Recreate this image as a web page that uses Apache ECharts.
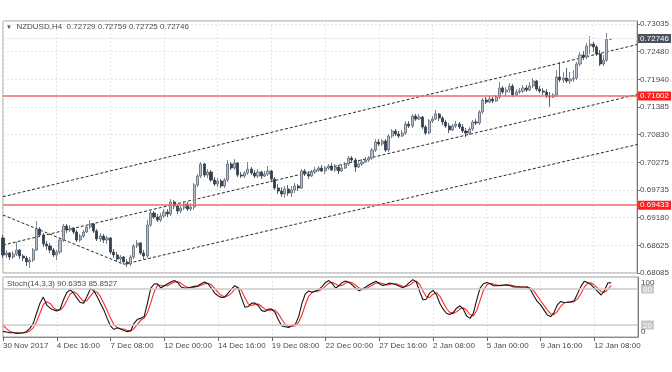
<!DOCTYPE html>
<html><head><meta charset="utf-8">
<script src="https://cdn.jsdelivr.net/npm/echarts@6/dist/echarts.min.js"></script>
<style>html,body{margin:0;padding:0;background:#fff}#c{width:672px;height:372px}</style>
</head><body><div id="c"></div>
<script>
const symbolName = 'NZDUSD,H4';
const xTickLabels = ['30 Nov 2017','4 Dec 16:00','7 Dec 08:00','12 Dec 00:00','14 Dec 16:00','19 Dec 08:00','22 Dec 00:00','27 Dec 16:00','2 Jan 08:00','5 Jan 00:00','9 Jan 16:00','12 Jan 08:00'];
const yTickLabels = ['0.68085','0.68625','0.69180','0.69735','0.70275','0.70830','0.71385','0.71940','0.72480','0.73035'];
const stochLevelLabels = {20:'20',80:'80'};
const stochEdgeLabels = {1:'0',11:'100'};

const opens = [0.68781,0.68443,0.68482,0.68403,0.68462,0.68542,0.68423,0.68383,0.68304,0.68343,
0.68542,0.68960,0.68840,0.68661,0.68622,0.68542,0.68443,0.68502,0.68741,0.69019,
0.68940,0.68979,0.68900,0.68741,0.68820,0.68900,0.68999,0.69059,0.68920,0.68761,
0.68820,0.68741,0.68781,0.68502,0.68443,0.68363,0.68403,0.68304,0.68264,0.68403,
0.68622,0.68681,0.68482,0.68423,0.69039,0.69278,0.69198,0.69138,0.69218,0.69297,
0.69258,0.69496,0.69417,0.69317,0.69377,0.69457,0.69357,0.69397,0.69834,0.70013,
0.70252,0.70033,0.70093,0.69934,0.69854,0.69914,0.69814,0.69934,0.70252,0.70172,
0.70272,0.70033,0.70013,0.70073,0.70152,0.70073,0.70013,0.70093,0.70013,0.70053,
0.70113,0.69954,0.69775,0.69715,0.69655,0.69755,0.69675,0.69735,0.69814,0.69775,
0.70113,0.70053,0.70013,0.70093,0.70133,0.70172,0.70113,0.70172,0.70212,0.70133,
0.70192,0.70113,0.70172,0.70252,0.70371,0.70331,0.70192,0.70252,0.70291,0.70331,
0.70371,0.70530,0.70689,0.70649,0.70709,0.70530,0.70808,0.70908,0.70848,0.70808,
0.70868,0.71047,0.71007,0.71206,0.71146,0.71186,0.70987,0.70868,0.71107,0.71146,
0.71246,0.71166,0.71087,0.71007,0.70928,0.71007,0.71047,0.70987,0.70908,0.70868,
0.70947,0.71087,0.71067,0.71286,0.71524,0.71484,0.71544,0.71504,0.71584,0.71763,
0.71683,0.71723,0.71802,0.71624,0.71683,0.71703,0.71763,0.71723,0.71802,0.71902,
0.71743,0.71703,0.71683,0.71604,0.71584,0.71624,0.71981,0.71922,0.71961,0.71902,
0.71942,0.71961,0.72240,0.72419,0.72379,0.72598,0.72637,0.72578,0.72438,0.72240,
0.72319,0.72729];
const closes = [0.68443,0.68482,0.68403,0.68462,0.68542,0.68423,0.68383,0.68304,0.68343,0.68542,
0.68960,0.68840,0.68661,0.68622,0.68542,0.68443,0.68502,0.68741,0.69019,0.68940,
0.68979,0.68900,0.68741,0.68820,0.68900,0.68999,0.69059,0.68920,0.68761,0.68820,
0.68741,0.68781,0.68502,0.68443,0.68363,0.68403,0.68304,0.68264,0.68403,0.68622,
0.68681,0.68482,0.68423,0.69039,0.69278,0.69198,0.69138,0.69218,0.69297,0.69258,
0.69496,0.69417,0.69317,0.69377,0.69457,0.69357,0.69397,0.69834,0.70013,0.70252,
0.70033,0.70093,0.69934,0.69854,0.69914,0.69814,0.69934,0.70252,0.70172,0.70272,
0.70033,0.70013,0.70073,0.70152,0.70073,0.70013,0.70093,0.70013,0.70053,0.70113,
0.69954,0.69775,0.69715,0.69655,0.69755,0.69675,0.69735,0.69814,0.69775,0.70113,
0.70053,0.70013,0.70093,0.70133,0.70172,0.70113,0.70172,0.70212,0.70133,0.70192,
0.70113,0.70172,0.70252,0.70371,0.70331,0.70192,0.70252,0.70291,0.70331,0.70371,
0.70530,0.70689,0.70649,0.70709,0.70530,0.70808,0.70908,0.70848,0.70808,0.70868,
0.71047,0.71007,0.71206,0.71146,0.71186,0.70987,0.70868,0.71107,0.71146,0.71246,
0.71166,0.71087,0.71007,0.70928,0.71007,0.71047,0.70987,0.70908,0.70868,0.70947,
0.71087,0.71067,0.71286,0.71524,0.71484,0.71544,0.71504,0.71584,0.71763,0.71683,
0.71723,0.71802,0.71624,0.71683,0.71703,0.71763,0.71723,0.71802,0.71902,0.71743,
0.71703,0.71683,0.71604,0.71584,0.71624,0.71981,0.71922,0.71961,0.71902,0.71942,
0.71961,0.72240,0.72419,0.72379,0.72598,0.72637,0.72578,0.72438,0.72240,0.72319,
0.72729,0.72746];
const lows = [0.68383,0.68383,0.68343,0.68363,0.68423,0.68363,0.68323,0.68224,0.68184,0.68304,
0.68522,0.68800,0.68602,0.68542,0.68482,0.68403,0.68343,0.68462,0.68701,0.68880,
0.68900,0.68860,0.68701,0.68701,0.68781,0.68880,0.68960,0.68880,0.68721,0.68701,
0.68681,0.68661,0.68462,0.68383,0.68304,0.68284,0.68264,0.68204,0.68224,0.68363,
0.68582,0.68443,0.68363,0.68383,0.68999,0.69158,0.69099,0.69099,0.69178,0.69198,
0.69218,0.69357,0.69258,0.69278,0.69337,0.69317,0.69317,0.69337,0.69794,0.69973,
0.69993,0.69973,0.69894,0.69814,0.69794,0.69775,0.69775,0.69894,0.70133,0.70133,
0.69993,0.69973,0.69973,0.70033,0.70033,0.69973,0.69973,0.69954,0.69993,0.70013,
0.69914,0.69735,0.69655,0.69596,0.69576,0.69616,0.69596,0.69675,0.69715,0.69755,
0.70013,0.69954,0.69993,0.70053,0.70093,0.70093,0.70053,0.70133,0.70113,0.70093,
0.70053,0.70093,0.70152,0.70212,0.70272,0.70093,0.70172,0.70212,0.70272,0.70291,
0.70331,0.70490,0.70610,0.70610,0.70490,0.70490,0.70769,0.70808,0.70769,0.70788,
0.70828,0.70967,0.70967,0.71107,0.71127,0.70947,0.70828,0.70848,0.71067,0.71127,
0.71107,0.71027,0.70967,0.70868,0.70908,0.70967,0.70947,0.70868,0.70788,0.70828,
0.70908,0.71027,0.71027,0.71246,0.71445,0.71464,0.71464,0.71484,0.71544,0.71643,
0.71604,0.71663,0.71584,0.71604,0.71643,0.71663,0.71683,0.71703,0.71763,0.71703,
0.71663,0.71624,0.71564,0.71385,0.71564,0.71584,0.71882,0.71862,0.71862,0.71842,
0.71882,0.71922,0.72200,0.72319,0.72339,0.72438,0.72478,0.72399,0.72200,0.72200,
0.72280,0.72725];
const highs = [0.68840,0.68542,0.68502,0.68522,0.68701,0.68562,0.68462,0.68423,0.68403,0.68582,
0.69118,0.68999,0.68880,0.68721,0.68681,0.68582,0.68542,0.68781,0.69059,0.69059,
0.69039,0.68999,0.68940,0.68860,0.68940,0.69039,0.69138,0.69079,0.68960,0.68880,
0.68860,0.68820,0.68800,0.68562,0.68502,0.68443,0.68423,0.68363,0.68443,0.68661,
0.68741,0.68701,0.68542,0.69138,0.69337,0.69317,0.69258,0.69278,0.69357,0.69357,
0.69556,0.69536,0.69457,0.69437,0.69516,0.69496,0.69476,0.69874,0.70053,0.70291,
0.70272,0.70152,0.70133,0.69993,0.69973,0.69954,0.69973,0.70331,0.70291,0.70351,
0.70291,0.70093,0.70113,0.70291,0.70192,0.70133,0.70152,0.70113,0.70113,0.70212,
0.70133,0.69993,0.69854,0.69794,0.69814,0.69834,0.69814,0.69874,0.69854,0.70152,
0.70152,0.70113,0.70133,0.70192,0.70212,0.70232,0.70212,0.70252,0.70272,0.70252,
0.70232,0.70232,0.70291,0.70411,0.70411,0.70371,0.70311,0.70351,0.70391,0.70411,
0.70570,0.70749,0.70749,0.70749,0.70749,0.70848,0.70947,0.70947,0.70908,0.70928,
0.71107,0.71107,0.71246,0.71246,0.71246,0.71206,0.71027,0.71146,0.71206,0.71325,
0.71266,0.71206,0.71127,0.71067,0.71047,0.71107,0.71087,0.71047,0.70967,0.70987,
0.71127,0.71146,0.71325,0.71564,0.71584,0.71604,0.71584,0.71624,0.71882,0.71802,
0.71783,0.71862,0.71842,0.71743,0.71763,0.71822,0.71822,0.71882,0.71961,0.71922,
0.71802,0.71763,0.71743,0.71683,0.71663,0.72120,0.72280,0.72081,0.72160,0.72081,
0.72120,0.72280,0.72478,0.72498,0.72657,0.72796,0.72677,0.72617,0.72518,0.72419,
0.72856,0.72759];

const stochK = [9.4,8.2,7,7,6.5,6.5,7,8.8,14.4,22.8,
39.6,56.4,66.5,53.6,48,45.2,43.5,46,62,74,
78.8,73,64.8,57.5,56.4,67.6,80,77.7,67.6,56.4,
45.2,31,18.3,12.7,15.5,13.3,11,8.8,10.5,22.8,
29.5,31,34,56.4,81.6,88.3,88.8,81.6,85.5,88.8,
91.6,94,91,83.3,81.6,81.6,83.3,84.4,85.5,88.8,
91.6,88.8,81.6,73.2,68.7,66,66.5,73.2,80,85.5,
81.6,64.8,49.7,50.8,56.4,56.4,52,44,42.4,46.4,
46.4,40.7,28.4,18.3,17.2,16,19,21,34,56.4,
72,76.6,74.4,76.6,78.8,84.4,91,94,89,81.6,
85.5,91,93.3,91,86.6,81,77,80,83.3,87.2,
90,92.8,88.8,86,87.2,90,88.8,87.2,84.4,82,
85.5,91,95.6,92,76,62,63,73.2,77.7,70.4,
56.4,46.4,39.6,37.4,40.7,48,52,46.4,35,31,
39.6,62,81.6,88.8,91,88.8,85.5,85.5,86,86.6,
87.2,85.5,83.3,83.3,83.3,83.3,83.3,78.8,68.7,59.2,
53.6,45.2,36.8,34,40.7,53.6,59.2,57.5,58,58.6,
60.3,72,84.4,92.8,91,87.2,81.6,76,70,77,
90,90.6353];
const stochD = [20,14,9.5,7.4,6.8,6.7,6.7,7.4,10.1,15.3,
25.6,39.6,54.2,58.8,56,48.9,45.6,44.9,50.5,60.7,
71.6,75.3,72.2,65.1,59.6,60.5,68,75.1,75.1,67.2,
56.4,44.2,31.5,20.7,15.5,13.8,13.3,11,10.1,14,
20.9,27.8,31.5,40.5,57.3,75.4,86.2,86.2,85.3,85.3,
88.6,91.5,92.2,89.4,85.3,82.2,82.2,83.1,84.4,86.2,
88.6,89.7,87.3,81.2,74.5,69.3,67.1,68.6,73.2,79.6,
82.4,77.3,65.4,55.1,52.3,54.5,54.9,50.8,46.1,44.3,
45.1,44.5,38.5,29.1,21.3,17.2,17.4,18.7,24.7,37.1,
54.1,68.3,74.3,75.9,76.6,79.9,84.7,89.8,91.3,88.2,
85.4,86,89.9,91.8,90.3,86.2,81.5,79.3,80.1,83.5,
86.8,90,90.5,89.2,87.3,87.7,88.7,88.7,86.8,84.5,
84,86.2,90.7,92.9,87.9,76.7,67,66.1,71.3,73.8,
68.2,57.7,47.5,41.1,39.2,42,46.9,48.8,44.5,37.5,
35.2,44.2,61.1,77.5,87.1,89.5,88.4,86.6,85.7,86,
86.6,86.4,85.3,84,83.3,83.3,83.3,81.8,76.9,68.9,
60.5,52.7,45.2,38.7,37.2,42.8,51.2,56.8,58.2,58,
59,63.6,72.2,83.1,89.4,90.3,86.6,81.6,75.9,74.3,
79,85.8527];

// drawn objects: trend lines [barIndex, price], horizontal levels
const channelUpper = [[0,0.69602],[189,0.72627]];
const channelMiddle = [[0,0.68641],[189,0.71633]];
const channelLower = [[36,0.68258],[189,0.70639]];
const fallingLine = [[0,0.69238],[36,0.68258]];
const levels = [0.71602, 0.69433];
const stochLevels = [20, 80];

// H4 bar times (weekends and holidays skipped), including empty right-shift slots
const categories = (function () {
  const out = [], skip = {'2017-12-25': 1, '2018-01-01': 1};
  let t = Date.UTC(2017, 10, 30, 0);
  while (out.length < 190) {
    const d = new Date(t), wd = d.getUTCDay(), key = d.toISOString().slice(0, 10);
    if (wd !== 0 && wd !== 6 && !skip[key]) out.push(key.replace(/-/g, '.') + ' ' + String(d.getUTCHours()).padStart(2, '0') + ':00');
    t += 4 * 3600e3;
  }
  return out;
})();

const candles = opens.map((o, i) => [o, closes[i], lows[i], highs[i]]);
const last = closes.length - 1;
const priceMin = 0.68085, priceMax = 0.73095;
const labelStep = (0.73035 - 0.68085) / 9;

const font = 'Liberation Sans, Arial, sans-serif';
const txt = '#4a4a4a';
const gridLine = {color: '#e4e4e4', type: [2, 2], width: 1};
const trendStyle = {color: '#2a2a2a', width: 1, type: [3, 2]};

function trend(data) {
  return {type: 'line', xAxisIndex: 0, yAxisIndex: 0, data: data, showSymbol: false, symbol: 'none',
    lineStyle: trendStyle, silent: true, z: 3};
}

const chart = echarts.init(document.getElementById('c'), null, {renderer: 'canvas'});
chart.setOption({
  animation: false,
  backgroundColor: '#ffffff',
  textStyle: {fontFamily: font},
  title: [
    {text: '{a|▼}  ' + symbolName + '  ' + opens[last].toFixed(5) + ' ' + highs[last].toFixed(5) + ' ' + lows[last].toFixed(5) + ' ' + closes[last].toFixed(5),
     left: 6, top: 23, padding: 0,
     textStyle: {fontSize: 8, color: txt, fontWeight: 'normal', fontFamily: font, rich: {a: {fontSize: 6, color: '#555'}}}},
    {text: 'Stoch(14,3,3) ' + stochK[last].toFixed(4) + ' ' + stochD[last].toFixed(4),
     left: 7, top: 280, padding: 0,
     textStyle: {fontSize: 8, color: txt, fontWeight: 'normal', fontFamily: font}}
  ],
  grid: [
    {left: 3, top: 21, width: 635, height: 252, show: true, borderColor: '#9c9c9c', borderWidth: 1, backgroundColor: '#fff'},
    {left: 3, top: 277, width: 635, height: 60, show: true, borderColor: '#9c9c9c', borderWidth: 1, backgroundColor: '#fff'}
  ],
  xAxis: [
    {type: 'category', gridIndex: 0, data: categories, boundaryGap: false,
     axisLine: {show: false}, axisTick: {show: false}, axisLabel: {show: false},
     splitLine: {show: true, interval: 15, lineStyle: gridLine}},
    {type: 'category', gridIndex: 1, data: categories, boundaryGap: false,
     axisLine: {show: true, lineStyle: {color: '#8a8a8a'}},
     axisTick: {show: true, interval: 15, length: 4, lineStyle: {color: '#666'}},
     axisLabel: {interval: 15, align: 'left', fontSize: 8, color: txt, margin: 5, fontFamily: font,
       formatter: (v, i) => xTickLabels[Math.round(i / 16)] || ''},
     splitLine: {show: true, interval: 15, lineStyle: gridLine}}
  ],
  yAxis: [
    {type: 'value', gridIndex: 0, min: priceMin, max: priceMax, show: false, scale: true},
    {type: 'value', gridIndex: 0, position: 'right', min: 0, max: (priceMax - priceMin) / labelStep, interval: 1,
     axisLine: {show: true, lineStyle: {color: '#777'}},
     axisTick: {show: true, length: 3, lineStyle: {color: '#777'}},
     axisLabel: {fontSize: 8, color: txt, margin: 3, showMaxLabel: false, showMinLabel: true, fontFamily: font,
       formatter: v => yTickLabels[Math.round(v)] || ''},
     splitLine: {show: true, lineStyle: gridLine}},
    {type: 'value', gridIndex: 1, position: 'right', min: 0, max: 100, interval: 20,
     axisLine: {show: true, lineStyle: {color: '#777'}},
     axisTick: {show: false}, splitLine: {show: false},
     axisLabel: {fontSize: 8, margin: 3, fontFamily: font, showMinLabel: false, showMaxLabel: false,
       formatter: v => stochLevelLabels[v] ? '{b|' + stochLevelLabels[v] + '}' : '',
       rich: {b: {fontSize: 8, color: '#ffffff', backgroundColor: '#c6c6c6', padding: [1, 2, 0, 2], fontFamily: font}}}},
    {type: 'value', gridIndex: 1, position: 'right', min: 0, max: 12.1, interval: 1,
     axisLine: {show: false}, axisTick: {show: false}, splitLine: {show: false},
     axisLabel: {fontSize: 8, color: txt, margin: 3, fontFamily: font, showMinLabel: false, showMaxLabel: false,
       formatter: v => stochEdgeLabels[Math.round(v)] || ''}}
  ],
  series: [
    trend(channelUpper), trend(channelMiddle), trend(channelLower), trend(fallingLine),
    {type: 'candlestick', xAxisIndex: 0, yAxisIndex: 0, data: candles, barWidth: 2.6, z: 4,
     itemStyle: {color: '#b7bfca', color0: '#34404e', borderColor: '#5d6775', borderColor0: '#34404e', borderWidth: 0.8},
     markLine: {silent: true, symbol: ['none', 'none'], animation: false, precision: 5,
       label: {show: true, position: 'end', distance: 1, color: '#fff', fontSize: 8, fontFamily: font, padding: [1, 2, 0, 2],
         formatter: p => Number(p.value).toFixed(5)},
       data: [
         {yAxis: levels[0], lineStyle: {color: '#f06a6a', width: 1.5, type: 'solid'}, label: {backgroundColor: '#ff1e1e'}},
         {yAxis: levels[1], lineStyle: {color: '#f06a6a', width: 1.5, type: 'solid'}, label: {backgroundColor: '#ff1e1e'}},
         {yAxis: closes[last], lineStyle: {color: '#ececec', width: 1, type: 'solid'}, label: {backgroundColor: '#4a525c'}}
       ]}},
    {type: 'line', name: '%D', xAxisIndex: 1, yAxisIndex: 2, data: stochD, showSymbol: false, symbol: 'none',
     lineStyle: {color: '#ff2a2a', width: 1.1}, z: 3,
     markLine: {silent: true, symbol: ['none', 'none'], label: {show: false}, animation: false,
       lineStyle: {color: '#cacaca', width: 1.5, type: 'solid'},
       data: stochLevels.map(v => ({yAxis: v}))}},
    {type: 'line', name: '%K', xAxisIndex: 1, yAxisIndex: 2, data: stochK, showSymbol: false, symbol: 'none',
     lineStyle: {color: '#151515', width: 1.1}, z: 4}
  ]
});
</script></body></html>
